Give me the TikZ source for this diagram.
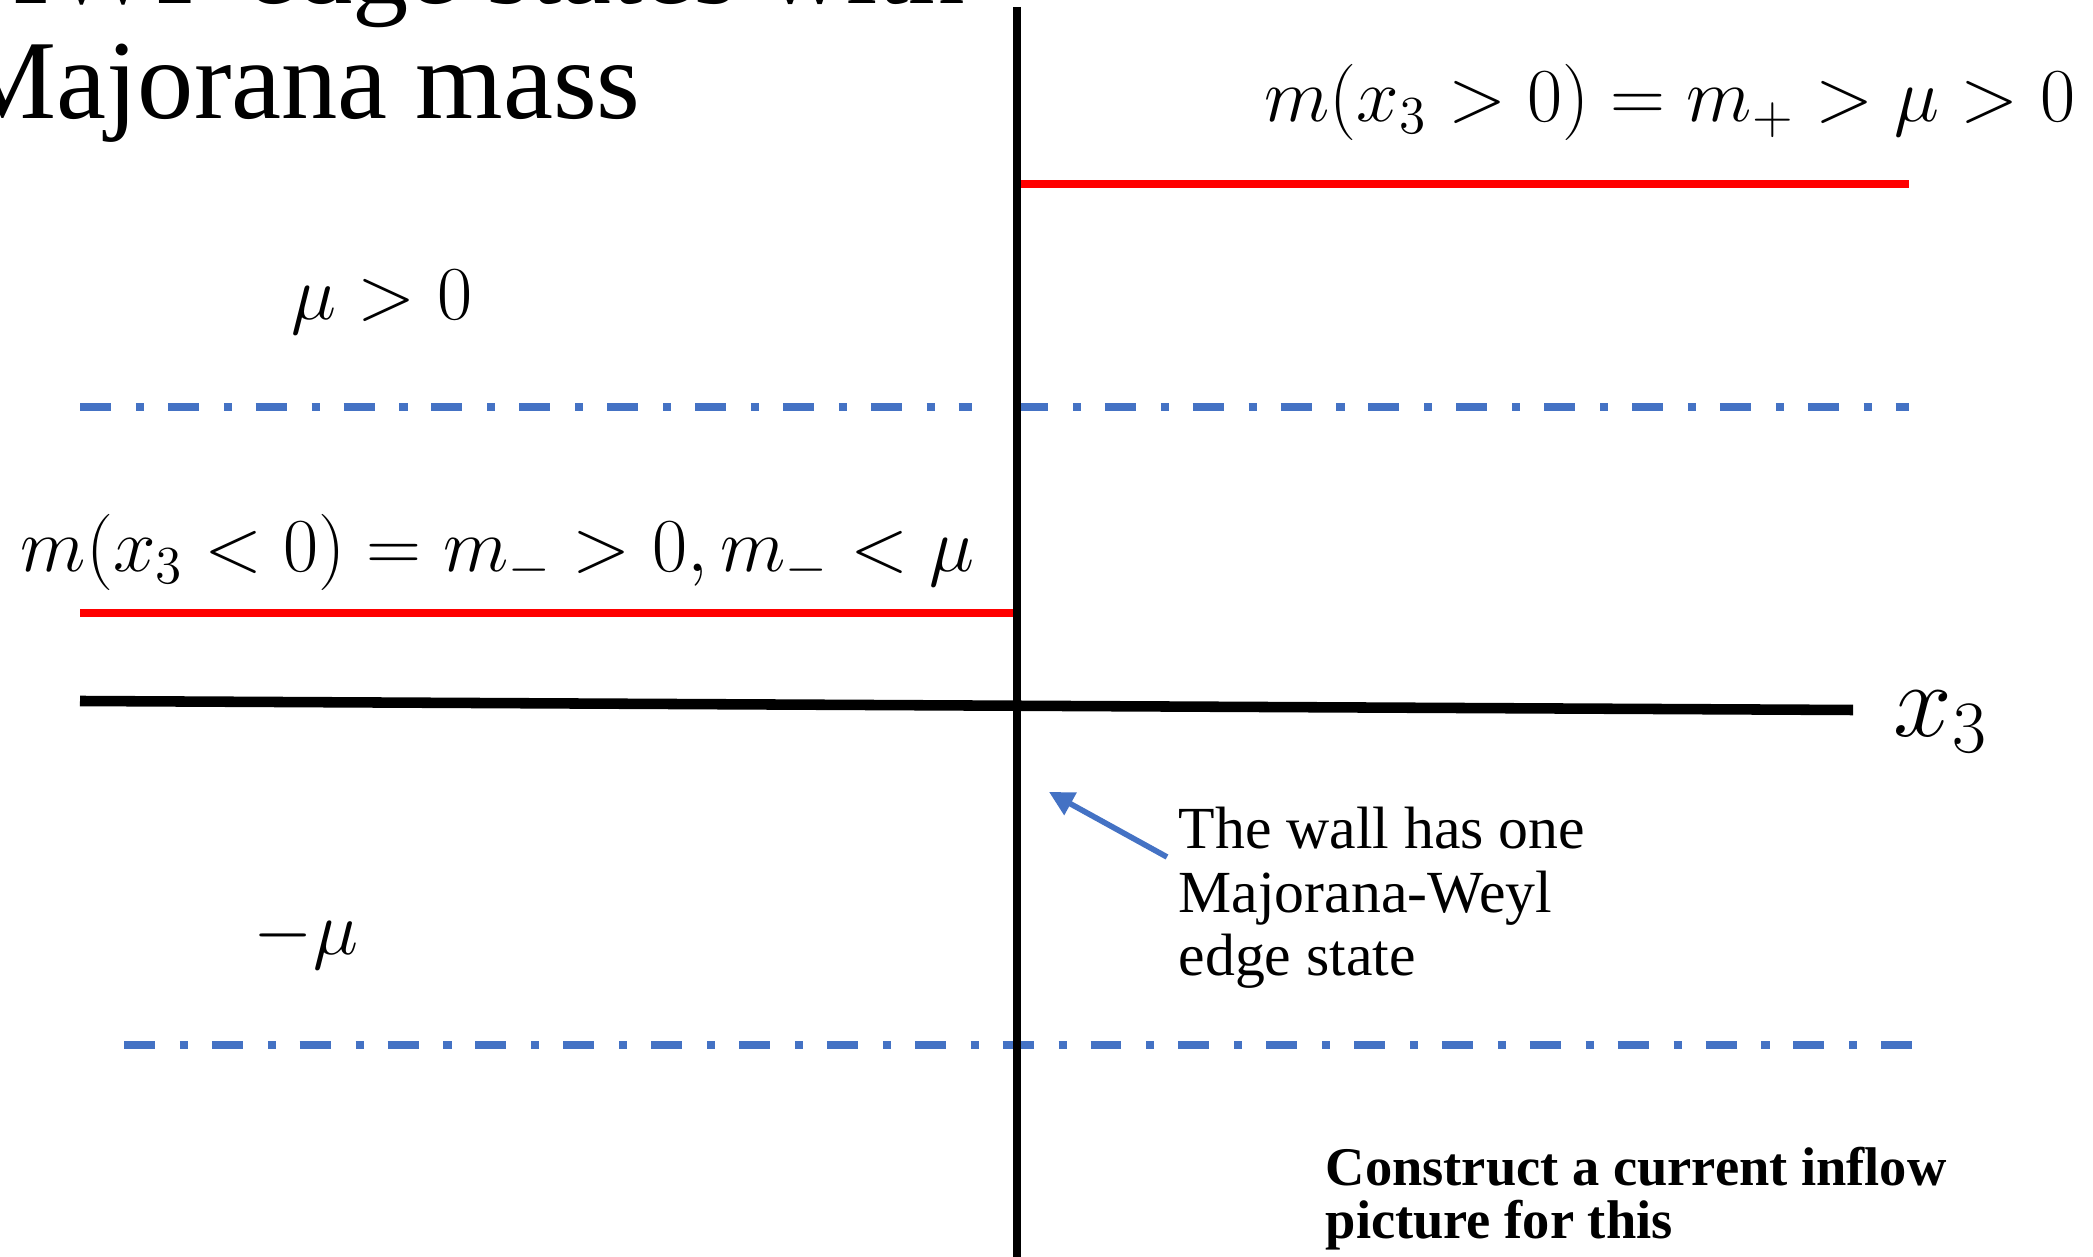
\RequirePackage{fix-cm}
\documentclass[tikz,border=0pt]{standalone}
\usepackage[no-math]{fontspec}
\setmainfont{Liberation Serif}
\usetikzlibrary{arrows.meta}
\definecolor{officeblue}{HTML}{4472C4}

\begin{document}
\begin{tikzpicture}[
	massline/.style={red, line width=2.1pt},
	levelline/.style={officeblue, line width=2.3pt, dash pattern=on 8.8pt off 7.1pt on 2.3pt off 6.8pt},
	eqlabel/.style={inner sep=0pt, font=\fontsize{21.7}{25}\selectfont},
	titletext/.style={anchor=base west, inner sep=0pt, font=\fontsize{32}{36}\selectfont},
]
		\useasboundingbox (0,0) rectangle (20.93,-12.57);
		% title, cut off at the top
		\node[titletext] (title1) at (-0.51,-0.04) {MWF edge states with};
		\node[titletext] (title2) at (-0.44,-1.19) {Majorana mass};
		% levels
		\draw[levelline] (0.80,-4.07) -- (9.72,-4.07);
		\draw[levelline] (10.17,-4.07) -- (19.09,-4.07);
		\draw[levelline] (1.24,-10.45) -- (19.18,-10.45);
		\draw[massline] (10.17,-1.84) -- (19.09,-1.84);
		\draw[massline] (0.80,-6.13) -- (10.15,-6.13);
		% wall and axis
		\draw[line width=2.4pt] (10.17,-0.07) -- (10.17,-12.6);
		\draw[line width=3pt] (0.80,-7.01) -- (18.53,-7.10);
		\node[anchor=base west, inner sep=0pt, font=\fontsize{30}{34}\selectfont] (xlabel) at (18.93,-7.37) {$x_3$};
		\node[eqlabel, anchor=base east] (mplus) at (20.76,-1.22) {$m(x_3>0)=m_+>\mu>0$};
		\node[eqlabel, anchor=base west] (mugt) at (2.91,-3.20) {$\mu>0$};
		\node[eqlabel, anchor=base west] (mminus) at (0.20,-5.72) {$m(x_3<0)=m_->0,m_-<\mu$};
		\node[eqlabel, anchor=base west] (minusmu) at (2.53,-9.55) {$-\mu$};
		% note on the wall (base = last line)
		\node[anchor=base west, inner sep=0pt, align=left, font=\fontsize{17}{18.2}\selectfont] (wallnote) at (11.78,-9.76) {The wall has one\\Majorana-Weyl\\edge state};
		\coordinate (walltip) at (10.49,-7.92);
		\coordinate (notetail) at (11.67,-8.57);
		\draw[officeblue, line width=1.6pt, -{Triangle[length=7pt,width=7pt]}] (notetail) -- (walltip);
		\node[anchor=base west, inner sep=0pt, align=left, font=\bfseries\fontsize{15.5}{15}\selectfont] (task) at (13.25,-12.38) {Construct a current inflow\\picture for this};
\end{tikzpicture}
\end{document}
